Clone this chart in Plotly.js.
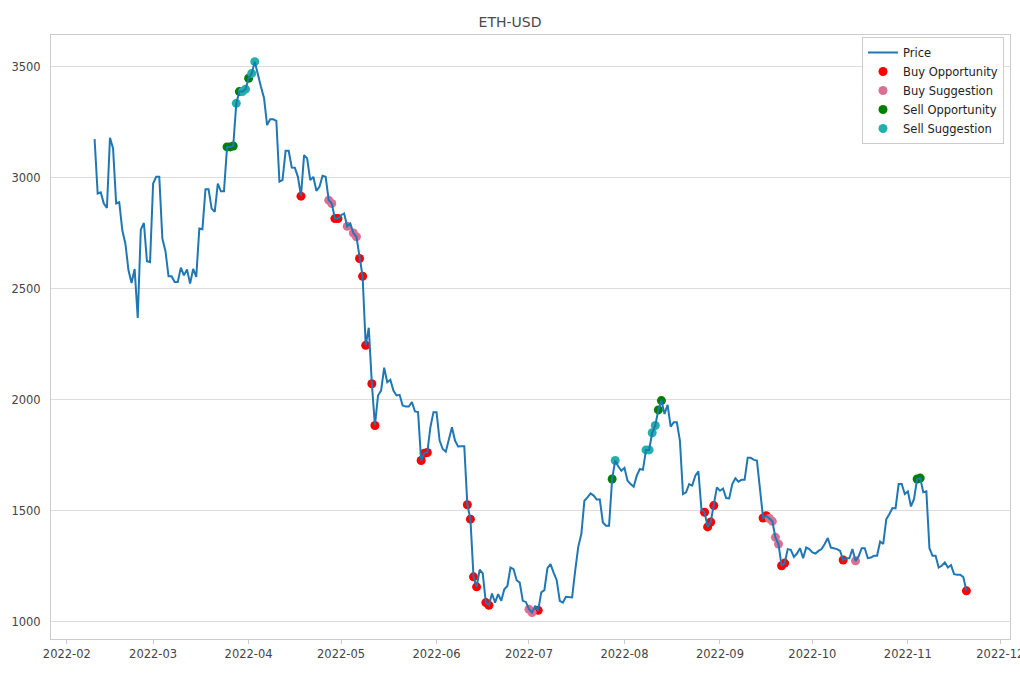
<!DOCTYPE html>
<html>
<head>
<meta charset="utf-8">
<script src="https://cdn.plot.ly/plotly-3.0.1.min.js"></script>
<style>
  html, body { margin: 0; padding: 0; background: #ffffff; }
  #chart { width: 1020px; height: 680px; }
</style>
</head>
<body>
<div id="chart"></div>
<script>
// ---- Data ----
const chartTitle = "ETH-USD";
const startDate = "2022-02-10"; // first daily close
const price = [
  3175, 2930, 2935, 2885, 2865, 3181, 3133, 2885, 2891, 2764,
  2704, 2584, 2527, 2590, 2369, 2767, 2797, 2625, 2621, 2975,
  3005, 3005, 2727, 2671, 2557, 2557, 2531, 2531, 2596, 2561,
  2588, 2524, 2590, 2554, 2772, 2769, 2949, 2949, 2862, 2847,
  2975, 2940, 2940, 3140, 3140, 3144, 3336, 3389, 3389, 3400,
  3449, 3471, 3524, 3460, 3411, 3360, 3238, 3264, 3264, 3257,
  2983, 2990, 3122, 3122, 3047, 3046, 3005, 2918, 3103, 3088,
  2990, 3005, 2942, 2960, 3010, 3005, 2900, 2885, 2817, 2817,
  2832, 2840, 2782, 2795, 2752, 2735, 2637, 2557, 2246, 2325,
  2073, 1885, 2020, 2042, 2145, 2080, 2091, 2042, 2020, 2023,
  1975, 1970, 1970, 1990, 1948, 1945, 1727, 1760, 1763, 1877,
  1945, 1945, 1817, 1779, 1767, 1817, 1877, 1817, 1790, 1791,
  1791, 1528, 1463, 1203, 1158, 1235, 1218, 1087, 1075, 1128,
  1087, 1125, 1095, 1147, 1162, 1245, 1238, 1188, 1177, 1095,
  1090, 1057, 1042, 1072, 1052, 1133, 1143, 1242, 1260, 1222,
  1188, 1095, 1087, 1113, 1110, 1110, 1230, 1338, 1396, 1546,
  1561, 1579, 1569, 1551, 1551, 1448, 1433, 1433, 1644, 1727,
  1700, 1681, 1694, 1636, 1621, 1609, 1659, 1689, 1685, 1775,
  1775, 1852, 1885, 1955, 1997, 1937, 1978, 1880, 1899, 1899,
  1817, 1576, 1584, 1621, 1614, 1659, 1678, 1506, 1494, 1428,
  1450, 1524, 1606, 1591, 1601, 1558, 1556, 1621, 1647, 1632,
  1640, 1640, 1739, 1739, 1730, 1727, 1599, 1468, 1478, 1466,
  1453, 1381, 1351, 1253, 1265, 1328, 1325, 1293, 1308, 1332,
  1287, 1335, 1328, 1313, 1308, 1320, 1328, 1351, 1378, 1335,
  1332, 1328, 1320, 1279, 1287, 1287, 1328, 1275, 1295, 1332,
  1332, 1287, 1290, 1298, 1298, 1362, 1351, 1463, 1486, 1513,
  1511, 1621, 1621, 1576, 1588, 1520, 1554, 1644, 1648, 1584,
  1588, 1332, 1298, 1298, 1245, 1253, 1268, 1245, 1256, 1215,
  1213, 1213, 1202, 1140
];

const buyOpportunityDates = [
  "2022-04-18", "2022-04-29", "2022-04-30", "2022-05-07", "2022-05-08",
  "2022-05-09", "2022-05-11", "2022-05-12", "2022-05-27", "2022-05-28",
  "2022-05-29", "2022-06-11", "2022-06-12", "2022-06-13", "2022-06-14",
  "2022-06-17", "2022-06-18", "2022-07-04", "2022-08-27", "2022-08-28",
  "2022-08-29", "2022-08-30", "2022-09-15", "2022-09-16", "2022-09-21",
  "2022-09-22", "2022-10-11", "2022-11-20"
];
const buySuggestionDates = [
  "2022-04-27", "2022-04-28", "2022-05-03", "2022-05-05", "2022-05-06",
  "2022-07-01", "2022-07-02", "2022-09-17", "2022-09-18", "2022-09-19",
  "2022-09-20", "2022-10-15"
];
const sellOpportunityDates = [
  "2022-03-25", "2022-03-26", "2022-03-27", "2022-03-29", "2022-04-01",
  "2022-07-28", "2022-08-12", "2022-08-13", "2022-11-04", "2022-11-05"
];
const sellSuggestionDates = [
  "2022-03-28", "2022-03-30", "2022-03-31", "2022-04-02", "2022-04-03",
  "2022-07-29", "2022-08-08", "2022-08-09", "2022-08-10", "2022-08-11"
];

// ---- Build daily dates for the price series ----
const dates = [];
{
  const p = startDate.split("-").map(Number);
  for (let i = 0; i < price.length; i++) {
    dates.push(new Date(Date.UTC(p[0], p[1] - 1, p[2] + i)).toISOString().slice(0, 10));
  }
}
const priceByDate = {};
dates.forEach((d, i) => { priceByDate[d] = price[i]; });

function signalTrace(name, ds, color, rank) {
  return {
    type: "scatter",
    mode: "markers",
    name: name,
    x: ds,
    y: ds.map(d => priceByDate[d]),
    marker: { color: color, size: 9, line: { width: 0 } },
    legendrank: rank,
    hoverinfo: "x+y+name"
  };
}

const traces = [
  signalTrace("Buy Opportunity", buyOpportunityDates, "#ff0000", 2),
  signalTrace("Buy Suggestion", buySuggestionDates, "#db7093", 3),
  signalTrace("Sell Opportunity", sellOpportunityDates, "#008000", 4),
  signalTrace("Sell Suggestion", sellSuggestionDates, "#20b2aa", 5),
  {
    type: "scatter",
    mode: "lines",
    name: "Price",
    x: dates,
    y: price,
    line: { color: "#1f77b4", width: 2 },
    legendrank: 1
  }
];

const layout = {
  width: 1020,
  height: 680,
  margin: { l: 51, r: 10, t: 35, b: 41 },
  paper_bgcolor: "#ffffff",
  plot_bgcolor: "#ffffff",
  font: { family: "DejaVu Sans, sans-serif", size: 11.5, color: "#444444" },
  title: {
    text: chartTitle,
    font: { family: "DejaVu Sans, sans-serif", size: 14, color: "#4a4a4a" },
    x: 0.5, xanchor: "center", xref: "container",
    y: 1 - 22 / 680, yanchor: "middle", yref: "container"
  },
  showlegend: true,
  legend: {
    x: 1 - 6 / 959, xanchor: "right",
    y: 1 - 2 / 604, yanchor: "top",
    bgcolor: "rgba(255,255,255,0.85)",
    bordercolor: "#cccccc",
    borderwidth: 1,
    font: { family: "DejaVu Sans, sans-serif", size: 11.5, color: "#222222" },
    traceorder: "normal",
    tracegroupgap: 0
  },
  xaxis: {
    type: "date",
    range: ["2022-01-26 20:24", "2022-12-04 03:36"],
    tick0: "2022-01-01",
    dtick: "M1",
    tickformat: "%Y-%m",
    ticklabeloverflow: "allow",
    showgrid: false,
    zeroline: false,
    showline: true,
    mirror: true,
    linecolor: "#cccccc",
    linewidth: 1,
    ticks: "outside",
    ticklen: 4,
    tickwidth: 1,
    tickcolor: "#cccccc",
    tickfont: { family: "DejaVu Sans, sans-serif", size: 11.5, color: "#444444" }
  },
  yaxis: {
    range: [923, 3644],
    tickvals: [1000, 1500, 2000, 2500, 3000, 3500],
    tickformat: "d",
    showgrid: true,
    gridcolor: "#dddddd",
    gridwidth: 1,
    zeroline: false,
    showline: true,
    mirror: true,
    linecolor: "#cccccc",
    linewidth: 1,
    ticks: "",
    ticklabelstandoff: 7,
    tickfont: { family: "DejaVu Sans, sans-serif", size: 11.5, color: "#444444" }
  }
};

Plotly.newPlot("chart", traces, layout, { displayModeBar: false, staticPlot: true });
</script>
</body>
</html>
